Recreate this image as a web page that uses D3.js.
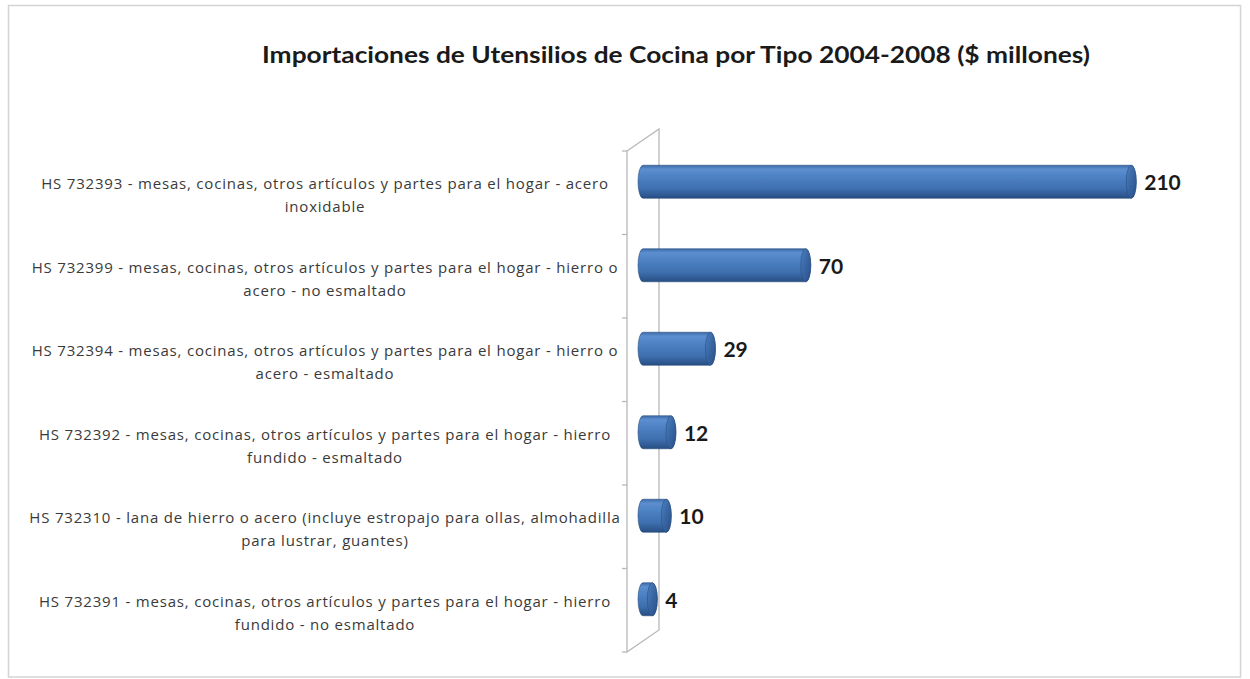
<!DOCTYPE html>
<html>
<head>
<meta charset="utf-8">
<script src="https://cdn.jsdelivr.net/npm/d3@7"></script>
<style>
  html, body { margin: 0; padding: 0; background: #fff; }
  svg { display: block; }
</style>
</head>
<body>
<svg id="chart" width="1250" height="679"></svg>
<script>
// Kitchenware imports by HS code, 2004-2008, millions of dollars
const categories = [
  "HS 732393 - mesas, cocinas, otros artículos y partes para el hogar - acero\ninoxidable",
  "HS 732399 - mesas, cocinas, otros artículos y partes para el hogar - hierro o\nacero - no esmaltado",
  "HS 732394 - mesas, cocinas, otros artículos y partes para el hogar - hierro o\nacero - esmaltado",
  "HS 732392 - mesas, cocinas, otros artículos y partes para el hogar - hierro\nfundido - esmaltado",
  "HS 732310 - lana de hierro o acero (incluye estropajo para ollas, almohadilla\npara lustrar, guantes)",
  "HS 732391 - mesas, cocinas, otros artículos y partes para el hogar - hierro\nfundido - no esmaltado"
];
const values = [210, 70, 29, 12, 10, 4];
const title = "Importaciones de Utensilios de Cocina por Tipo 2004-2008 ($ millones)";

const svg = d3.select("#chart");
const font = "Lato, 'Open Sans', sans-serif";
const labelFont = "'Open Sans', Lato, sans-serif";

// outer chart frame
svg.append("rect")
  .attr("x", 8.5).attr("y", 5.5).attr("width", 1232).attr("height", 671.5)
  .attr("fill", "#fff").attr("stroke", "#d4d4d4").attr("stroke-width", 1.5);

// title
svg.append("text")
  .attr("x", 676).attr("y", 63)
  .attr("text-anchor", "middle")
  .attr("font-family", font).attr("font-weight", 700).attr("font-size", 22)
  .attr("fill", "#1a1a1a")
  .attr("textLength", 828).attr("lengthAdjust", "spacingAndGlyphs")
  .text(title);

// 3D plot geometry: front plane + depth offset
const front = { x: 627, top: 151, bottom: 652 };
const depth = { dx: 32, dy: -22 };

const y = d3.scaleBand()
  .domain(categories)
  .range([front.top, front.bottom])
  .paddingInner(0).paddingOuter(0);

const x = d3.scaleLinear()
  .domain([0, 250])
  .range([front.x + depth.dx / 2, front.x + depth.dx / 2 + 2.325 * 250]);

// side wall outline
const wall = svg.append("g")
  .attr("fill", "none").attr("stroke", "#b8b8b8").attr("stroke-width", 1.3);
wall.append("path").attr("d", d3.line()([
  [front.x, front.top], [front.x + depth.dx, front.top + depth.dy],
  [front.x + depth.dx, front.bottom + depth.dy], [front.x, front.bottom], [front.x, front.top]
]));

// category ticks along the front edge
const axis = d3.axisLeft(y).tickSize(0).tickFormat("");
const axisG = svg.append("g").attr("transform", `translate(${front.x},0)`).call(axis);
axisG.select(".domain").remove();
const bounds = categories.map(c => y(c)).concat([front.bottom]);
svg.append("g").selectAll("line").data(bounds).join("line")
  .attr("x1", front.x - 5).attr("x2", front.x)
  .attr("y1", d => d).attr("y2", d => d)
  .attr("stroke", "#b8b8b8").attr("stroke-width", 1.3);

// category labels (pre-broken into lines)
const labels = svg.append("g")
  .attr("font-family", labelFont).attr("font-size", 15).attr("fill", "#3a3a3a")
  .attr("letter-spacing", 0.8)
  .attr("text-anchor", "middle");
categories.forEach(c => {
  const lines = c.split("\n");
  const cy = y(c) + y.bandwidth() / 2 + 4;
  const lh = 23;
  const t = labels.append("text").attr("x", 325);
  lines.forEach((ln, i) => {
    t.append("tspan")
      .attr("x", 325)
      .attr("y", cy + (i - (lines.length - 1) / 2) * lh)
      .attr("dominant-baseline", "middle")
      .text(ln);
  });
});

// cylinder gradients
const defs = svg.append("defs");
const body = defs.append("linearGradient").attr("id", "cylBody")
  .attr("x1", 0).attr("y1", 0).attr("x2", 0).attr("y2", 1);
[[0, "#3b6aa6"], [0.12, "#5d8fd0"], [0.3, "#4f84c6"], [0.7, "#3f70b0"], [0.9, "#2f5a93"], [1, "#264d80"]]
  .forEach(([o, c]) => body.append("stop").attr("offset", o).attr("stop-color", c));
const cap = defs.append("linearGradient").attr("id", "cylCap")
  .attr("x1", 0).attr("y1", 0).attr("x2", 1).attr("y2", 1);
[[0, "#4f80c0"], [0.5, "#3866a3"], [1, "#2a5088"]]
  .forEach(([o, c]) => cap.append("stop").attr("offset", o).attr("stop-color", c));

// bars drawn as horizontal cylinders, set back half the wall depth
const barH = 33, rx = 5, ry = barH / 2;
const bars = svg.append("g");
categories.forEach((c, i) => {
  const cy = y(c) + y.bandwidth() / 2 + depth.dy / 2;
  const x0 = x(0), x1 = x(values[i]);
  const top = cy - ry, bot = cy + ry;
  bars.append("path")
    .attr("d", `M${x0},${top} L${x1},${top} A${rx},${ry} 0 0 1 ${x1},${bot} L${x0},${bot} A${rx},${ry} 0 0 1 ${x0},${top} Z`)
    .attr("fill", "url(#cylBody)")
    .attr("stroke", "#2a4f82").attr("stroke-width", 0.6);
  bars.append("ellipse")
    .attr("cx", x1).attr("cy", cy).attr("rx", rx).attr("ry", ry)
    .attr("fill", "url(#cylCap)")
    .attr("stroke", "#2a4f82").attr("stroke-width", 0.6);
  // value label
  svg.append("text")
    .attr("x", x1 + 13).attr("y", cy + 3)
    .attr("dominant-baseline", "middle")
    .attr("font-family", font).attr("font-weight", 700).attr("font-size", 21)
    .attr("fill", "#1a1a1a")
    .text(values[i]);
});
</script>
</body>
</html>
